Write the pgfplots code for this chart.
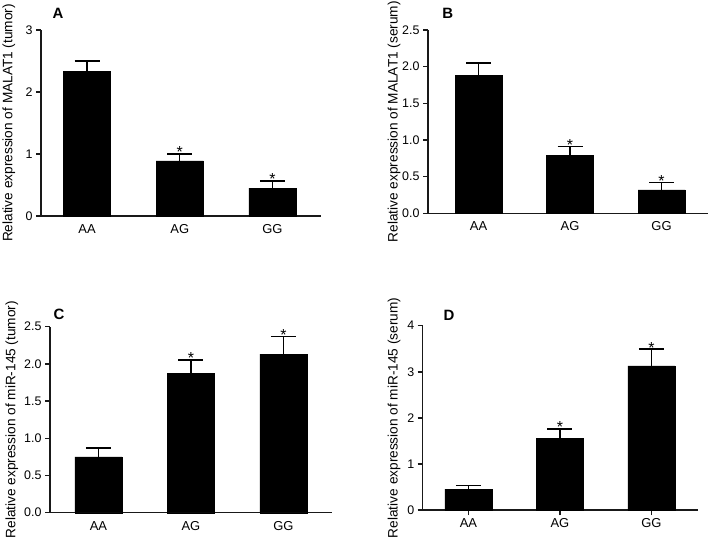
\documentclass[border=0pt]{standalone}
\usepackage{fontspec}
\setmainfont{Liberation Sans}
\usepackage{pgfplots}
\pgfplotsset{compat=1.18}
\pgfplotsset{
 panel/.style={
  scale only axis,
  axis x line=bottom, axis y line=left,
  axis line style={-, line width=1.5bp, color=black!90},
  tick align=outside,
  major tick length=5bp,
  major tick style={line width=1.5bp, color=black!90},
  xtick={0,1,2}, xticklabels={AA,AG,GG},
  ymin=0,
  tick label style={font=\fontsize{12.5}{14}\selectfont},
  xticklabel style={font=\fontsize{13}{15}\selectfont},
  label style={font=\fontsize{13.7}{15}\selectfont},
  /pgf/number format/assume math mode=true,
  clip=false,
 },
 onedec/.style={yticklabel style={/pgf/number format/.cd, fixed, fixed zerofill, precision=1}},
 bars/.style={ybar, bar width=47bp, bar shift=0pt, fill=black, draw=black,
  error bars/.cd, y dir=plus, y explicit,
  error bar style={line width=1.5bp, black},
  error mark options={rotate=90, mark size=12.5bp, line width=1.5bp, black}},
 stars/.style={only marks, mark=none, nodes near coords={*},
  every node near coord/.style={anchor=south, inner sep=0pt, yshift=-4bp, font=\fontsize{16}{18}\selectfont}},
}
\tikzset{lab/.style={font=\bfseries\fontsize{15}{17}\selectfont}}
\begin{document}
\begin{tikzpicture}
\path[use as bounding box] (0,0) rectangle (709bp,544bp);
% A
\begin{axis}[panel, at={(41bp,328bp)}, anchor=south west, width=280bp, height=186bp,
  xmin=-0.496, xmax=2.523, ymax=3, ytick={0,1,2,3}, xtick style={draw=none},
  ylabel={Relative expression of MALAT1 (tumor)},
  ylabel style={at={(axis description cs:-0.115,0.5)}, anchor=center}]
\addplot[bars] coordinates {(0,2.33) +- (0,0.17) (1,0.89) +- (0,0.11) (2,0.45) +- (0,0.115)};
\addplot[stars] coordinates {(1,1.0) (2,0.565)};
\node[lab] at (axis description cs:0.061,1.091) {A};
\end{axis}
% B
\begin{axis}[panel, onedec, at={(428bp,330.7bp)}, anchor=south west, width=280bp, height=183.3bp,
  xmin=-0.552, xmax=2.508, ymax=2.5, ytick={0,0.5,1,1.5,2,2.5}, xtick style={draw=none},
  ylabel={Relative expression of MALAT1 (serum)},
  ylabel style={at={(axis description cs:-0.121,0.5)}, anchor=center}]
\addplot[bars] coordinates {(0,1.88) +- (0,0.17) (1,0.79) +- (0,0.12) (2,0.32) +- (0,0.10)};
\addplot[stars] coordinates {(1,0.91) (2,0.42)};
\node[lab] at (axis description cs:0.071,1.093) {B};
\end{axis}
% C
\begin{axis}[panel, onedec, at={(50bp,31.3bp)}, anchor=south west, width=282bp, height=186bp,
  xmin=-0.524, xmax=2.525, ymax=2.5, ytick={0,0.5,1,1.5,2,2.5}, xtick style={draw=none},
  ylabel={Relative expression of miR-145 (tumor)},
  ylabel style={at={(axis description cs:-0.135,0.5)}, anchor=center}]
\addplot[bars] coordinates {(0,0.75) +- (0,0.12) (1,1.87) +- (0,0.18) (2,2.13) +- (0,0.24)};
\addplot[stars] coordinates {(1,2.05) (2,2.37)};
\node[lab] at (axis description cs:0.032,1.068) {C};
\end{axis}
% D
\begin{axis}[panel, at={(422.7bp,34bp)}, anchor=south west, width=275.3bp, height=184.3bp,
  xmin=-0.5, xmax=2.509, ymax=4, ytick={0,1,2,3,4},
  ylabel={Relative expression of miR-145 (serum)},
  ylabel style={at={(axis description cs:-0.104,0.5)}, anchor=center}]
\addplot[bars] coordinates {(0,0.455) +- (0,0.075) (1,1.555) +- (0,0.205) (2,3.13) +- (0,0.36)};
\addplot[stars] coordinates {(1,1.76) (2,3.49)};
\node[lab] at (axis description cs:0.096,1.058) {D};
\end{axis}
\end{tikzpicture}
\end{document}
